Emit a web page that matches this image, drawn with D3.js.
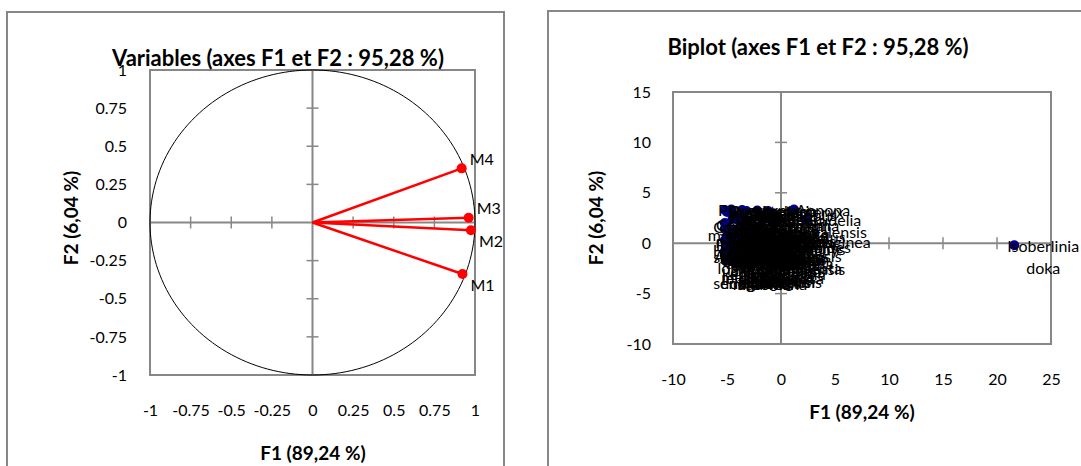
<!DOCTYPE html>
<html>
<head>
<meta charset="utf-8">
<script src="https://cdn.jsdelivr.net/npm/d3@7"></script>
<style>
  html, body { margin: 0; padding: 0; background: #fff; }
  svg { display: block; font-family: Lato, "Liberation Sans", sans-serif; }
</style>
</head>
<body>
<div id="chart"></div>
<script>
// correlation circle: variables
const varNames = ["M1", "M2", "M3", "M4"];
const varF1 = [0.923, 0.975, 0.961, 0.918];
const varF2 = [-0.338, -0.051, 0.031, 0.355];

// biplot observations (species)
const species = [
  "Burkea africana", "Pterocarpus erinaceus", "Combretum glutinosum", "Vitellaria paradoxa",
  "Crossopteryx febrifuga", "Annona senegalensis", "Cassia sieberiana", "Lannea microcarpa",
  "Hexalobus monopetalus", "Ozoroa insignis", "Detarium microcarpum", "Parkia biglobosa",
  "Piliostigma thonningii", "Gardenia erubescens", "Bridelia ferruginea", "Strychnos spinosa",
  "Lannea acida", "Sclerocarya birrea", "Daniellia oliveri", "Terminalia avicennioides",
  "Saba senegalensis", "Feretia apodanthera", "Sterculia setigera", "Entada africana",
  "Afzelia africana", "Bombax costatum", "Ximenia americana", "Tamarindus indica",
  "Prosopis africana", "Pericopsis laxiflora", "Hymenocardia acida", "Stereospermum kunthianum",
  "Dichrostachys cinerea", "Khaya senegalensis", "Mitragyna inermis", "Trichilia emetica",
  "Opilia celtidifolia", "Anogeissus leiocarpa", "Diospyros mespiliformis", "Combretum nigricans",
  "Pteleopsis suberosa", "Ficus sur", "Lonchocarpus laxiflorus", "Maytenus senegalensis",
  "Ziziphus mauritiana", "Grewia bicolor", "Acacia dudgeonii", "Cussonia arborea",
  "Acacia macrostachya", "Acacia seyal", "Balanites aegyptiaca", "Cochlospermum planchonii",
  "Combretum molle", "Combretum collinum", "Flueggea virosa", "Guiera senegalensis",
  "Lophira lanceolata", "Monotes kerstingii", "Parinari curatellifolia", "Pseudocedrela kotschyi",
  "Psorospermum febrifugum", "Steganotaenia araliacea", "Uapaca togoensis", "Vitex doniana",
  "Xeroderris stuhlmannii", "Securidaca longepedunculata", "Swartzia madagascariensis",
  "Isoberlinia doka"
];
const obsF1 = [
  -5.2, -4.6, -3.6, -2.2,
  -1.2, 1.2, -3.5, -2.1,
  -0.9, -5.2, -4.5, -4.0,
  -2.9, -1.5, 2.3, -5.2,
  -4.3, -3.3, -2.0, -0.6,
  -4.9, -3.0, -1.1, -5.2,
  -4.6, -3.6, -2.8, -1.7,
  -0.4, -5.1, -4.3, -2.4,
  -1.3, -0.8, -4.1, -2.9,
  -1.9, -5.2, -3.9, -2.6,
  -1.6, -2.2, -3.0, -4.9,
  -3.7, -4.4, -5.1, -4.2,
  -5.0, -3.2, -4.4, -3.4,
  -5.1, -2.6, -4.7, -3.9,
  -2.3, -5.2, -3.4, -4.0,
  -3.1, -3.8, -2.0, -1.4,
  -3.3, -2.8, -2.7,
  21.6
];
const obsF2 = [
  3.3, 3.35, 3.3, 3.25,
  3.2, 3.35, 2.9, 2.8,
  2.9, 2.0, 2.4, 2.3,
  2.2, 2.4, 2.35, 1.4,
  1.3, 1.5, 1.3, 1.9,
  0.9, 0.7, 0.9, 0.3,
  0.1, 0.25, 0.0, 0.2,
  0.3, -0.3, -0.6, -0.4,
  -0.5, -0.3, -0.9, -0.9,
  -0.8, -1.2, -1.1, -1.3,
  -1.2, -1.1, -1.5, -1.7,
  -1.8, -1.6, -1.75, -1.85,
  3.1, 3.2, 2.7, 1.9,
  1.7, 1.8, 0.6, 0.5,
  0.6, -0.8, -0.5, 0.0,
  -1.6, -1.4, -1.6, 0.4,
  2.4, -0.2, 1.0,
  -0.2
];

const circleTicks = [-1, -0.75, -0.5, -0.25, 0, 0.25, 0.5, 0.75, 1];
const biplotXTicks = [-10, -5, 0, 5, 10, 15, 20, 25];
const biplotYTicks = [-10, -5, 0, 5, 10, 15];

const W = 1081, H = 466;
const gray = "#878787";

const svg = d3.select("#chart").append("svg")
    .attr("width", W)
    .attr("height", H);

// panel frames
svg.append("rect").attr("x", 7).attr("y", 12).attr("width", 497).attr("height", 470)
    .attr("fill", "none").attr("stroke", gray).attr("stroke-width", 2);
svg.append("rect").attr("x", 548).attr("y", 11).attr("width", 560).attr("height", 470)
    .attr("fill", "none").attr("stroke", gray).attr("stroke-width", 2);

function crossTicks(g, x, y, xt, yt) {
  g.selectAll(null).data(xt).enter().append("line")
      .attr("x1", d => x(d)).attr("x2", d => x(d))
      .attr("y1", y(0) - 6).attr("y2", y(0) + 6)
      .attr("stroke", gray).attr("stroke-width", 1.5);
  g.selectAll(null).data(yt).enter().append("line")
      .attr("x1", x(0) - 6).attr("x2", x(0) + 6)
      .attr("y1", d => y(d)).attr("y2", d => y(d))
      .attr("stroke", gray).attr("stroke-width", 1.5);
}

function labelAxes(g, x, y, xt, yt, x0, y1, gapX, gapY) {
  const ax = g.append("g")
      .attr("transform", `translate(0,${y1 + gapY})`)
      .call(d3.axisBottom(x).tickValues(xt).tickSize(0).tickPadding(0).tickFormat(d => String(d)));
  const ay = g.append("g")
      .attr("transform", `translate(${x0 - gapX},0)`)
      .call(d3.axisLeft(y).tickValues(yt).tickSize(0).tickPadding(0).tickFormat(d => String(d)));
  [ax, ay].forEach(a => {
    a.select(".domain").remove();
    a.selectAll("text").attr("font-size", 16).attr("fill", "#000")
        .style("font-family", "Lato, 'Liberation Sans', sans-serif");
  });
  ax.selectAll("text").attr("dy", "0.35em");
}

// ---------- left: correlation circle ----------
{
  const x0 = 150, x1 = 475, y0 = 70, y1 = 375;
  const x = d3.scaleLinear().domain([-1, 1]).range([x0, x1]);
  const y = d3.scaleLinear().domain([-1, 1]).range([y1, y0]);
  const g = svg.append("g");

  g.append("rect").attr("x", x0).attr("y", y0).attr("width", x1 - x0).attr("height", y1 - y0)
      .attr("fill", "none").attr("stroke", gray).attr("stroke-width", 2);
  g.append("line").attr("x1", x0).attr("x2", x1).attr("y1", y(0)).attr("y2", y(0))
      .attr("stroke", gray).attr("stroke-width", 2);
  g.append("line").attr("x1", x(0)).attr("x2", x(0)).attr("y1", y0).attr("y2", y1)
      .attr("stroke", gray).attr("stroke-width", 2);
  crossTicks(g, x, y, circleTicks.filter(d => Math.abs(d) < 1 && d !== 0),
             circleTicks.filter(d => Math.abs(d) < 1 && d !== 0));

  const circle = d3.range(0, 361, 2).map(a => [Math.cos(a * Math.PI / 180), Math.sin(a * Math.PI / 180)]);
  g.append("path")
      .attr("d", d3.line().x(d => x(d[0])).y(d => y(d[1]))(circle))
      .attr("fill", "none").attr("stroke", "#000").attr("stroke-width", 1);

  labelAxes(g, x, y, circleTicks, circleTicks, x0, y1, 23, 35);

  const vars = varNames.map((n, i) => ({ n, f1: varF1[i], f2: varF2[i] }));
  g.selectAll(".vec").data(vars).enter().append("line")
      .attr("x1", x(0)).attr("y1", y(0))
      .attr("x2", d => x(d.f1)).attr("y2", d => y(d.f2))
      .attr("stroke", "#ff0000").attr("stroke-width", 2.5);
  g.selectAll(".dot").data(vars).enter().append("circle")
      .attr("cx", d => x(d.f1)).attr("cy", d => y(d.f2)).attr("r", 5)
      .attr("fill", "#ff0000");
  g.selectAll(".vlab").data(vars).enter().append("text")
      .attr("x", d => x(d.f1) + 8)
      .attr("y", d => y(d.f2) + (d.f2 > 0 ? -9 : 11))
      .attr("dy", "0.35em")
      .attr("font-size", 16)
      .text(d => d.n);

  g.append("text").attr("x", 278).attr("y", 66).attr("text-anchor", "middle")
      .attr("font-size", 22).attr("font-weight", "bold")
      .text("Variables (axes F1 et F2 : 95,28 %)");
  g.append("text").attr("x", 313).attr("y", 453).attr("dy", "0.35em").attr("text-anchor", "middle")
      .attr("font-size", 19).attr("font-weight", "bold").text("F1 (89,24 %)");
  g.append("text").attr("transform", "translate(71,218) rotate(-90)").attr("dy", "0.35em")
      .attr("text-anchor", "middle")
      .attr("font-size", 19).attr("font-weight", "bold").text("F2 (6,04 %)");
}

// ---------- right: biplot ----------
{
  const x0 = 673, x1 = 1051, y0 = 92, y1 = 344;
  const x = d3.scaleLinear().domain([-10, 25]).range([x0, x1]);
  const y = d3.scaleLinear().domain([-10, 15]).range([y1, y0]);
  const g = svg.append("g");

  g.append("rect").attr("x", x0).attr("y", y0).attr("width", x1 - x0).attr("height", y1 - y0)
      .attr("fill", "none").attr("stroke", gray).attr("stroke-width", 2);
  g.append("line").attr("x1", x0).attr("x2", x1).attr("y1", y(0)).attr("y2", y(0))
      .attr("stroke", gray).attr("stroke-width", 2);
  g.append("line").attr("x1", x(0)).attr("x2", x(0)).attr("y1", y0).attr("y2", y1)
      .attr("stroke", gray).attr("stroke-width", 2);
  crossTicks(g, x, y, biplotXTicks.filter(d => d !== 0 && d !== -10 && d !== 25),
             biplotYTicks.filter(d => d !== 0 && d !== -10 && d !== 15));

  labelAxes(g, x, y, biplotXTicks, biplotYTicks, x0, y1, 22, 35);

  const obs = species.map((n, i) => ({ n, f1: obsF1[i], f2: obsF2[i] }));
  g.selectAll(".pt").data(obs).enter().append("circle")
      .attr("cx", d => x(d.f1)).attr("cy", d => y(d.f2)).attr("r", 5)
      .attr("fill", "#000080");
  const lab = g.selectAll(".plab").data(obs).enter().append("text")
      .attr("text-anchor", "middle")
      .attr("font-size", 16)
      .attr("fill", "#000");
  lab.each(function(d) {
    const t = d3.select(this);
    d.n.split(" ").forEach((w, k) => {
      t.append("tspan")
          .attr("x", x(d.f1) + 29)
          .attr("y", y(d.f2) + 1 + k * 22)
          .attr("dy", "0.35em")
          .text(w);
    });
  });

  g.append("text").attr("x", 818).attr("y", 55).attr("text-anchor", "middle")
      .attr("font-size", 22).attr("font-weight", "bold")
      .text("Biplot (axes F1 et F2 : 95,28 %)");
  g.append("text").attr("x", 862).attr("y", 412).attr("dy", "0.35em").attr("text-anchor", "middle")
      .attr("font-size", 19).attr("font-weight", "bold").text("F1 (89,24 %)");
  g.append("text").attr("transform", "translate(596,218) rotate(-90)").attr("dy", "0.35em")
      .attr("text-anchor", "middle")
      .attr("font-size", 19).attr("font-weight", "bold").text("F2 (6,04 %)");
}
</script>
</body>
</html>
